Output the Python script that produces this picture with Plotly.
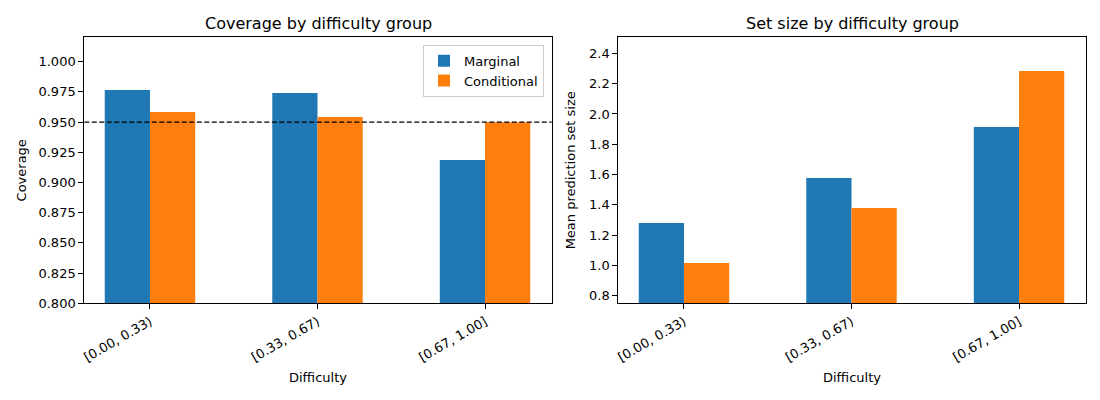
import plotly.graph_objects as go

categories = ["[0.00, 0.33)", "[0.33, 0.67)", "[0.67, 1.00]"]
coverage_marginal = [0.9765, 0.9740, 0.9186]
coverage_conditional = [0.9583, 0.9542, 0.9498]
setsize_marginal = [1.280, 1.577, 1.914]
setsize_conditional = [1.016, 1.379, 2.284]
target_coverage = 0.95
cov_ticks = [0.800, 0.825, 0.850, 0.875, 0.900, 0.925, 0.950, 0.975, 1.000]
size_ticks = [0.8, 1.0, 1.2, 1.4, 1.6, 1.8, 2.0, 2.2, 2.4]

BLUE = "#1f77b4"
ORANGE = "#ff7f0e"
FONT = "DejaVu Sans"

fig = go.Figure()
fig.add_trace(go.Bar(x=categories, y=coverage_marginal, name="Marginal", marker=dict(color=BLUE, line=dict(width=0)),
                     xaxis="x", yaxis="y", legendgroup="m"))
fig.add_trace(go.Bar(x=categories, y=coverage_conditional, name="Conditional", marker=dict(color=ORANGE, line=dict(width=0)),
                     xaxis="x", yaxis="y", legendgroup="c"))
fig.add_trace(go.Bar(x=categories, y=setsize_marginal, name="Marginal", marker=dict(color=BLUE, line=dict(width=0)),
                     xaxis="x2", yaxis="y2", showlegend=False, legendgroup="m"))
fig.add_trace(go.Bar(x=categories, y=setsize_conditional, name="Conditional", marker=dict(color=ORANGE, line=dict(width=0)),
                     xaxis="x2", yaxis="y2", showlegend=False, legendgroup="c"))

ydom = [(400 - 303.3) / 400, (400 - 37.3) / 400]
x1dom = [84.3 / 1100, 551.7 / 1100]
x2dom = [618.3 / 1100, 1085.7 / 1100]

axis_common = dict(showline=True, linecolor="black", linewidth=1, mirror=True, ticks="outside",
                   ticklen=5, tickcolor="black", showgrid=False, zeroline=False, automargin=False,
                   tickfont=dict(size=13, color="black", family=FONT))

fig.update_layout(
    width=1100, height=400,
    margin=dict(l=0, r=0, t=0, b=0),
    paper_bgcolor="white", plot_bgcolor="white",
    font=dict(family=FONT, color="black"),
    barmode="group", bargap=0.46, bargroupgap=0,
    showlegend=True,
    legend=dict(x=544 / 1100, xanchor="right", y=(400 - 44.7) / 400, yanchor="top",
                bgcolor="rgba(255,255,255,0.8)", bordercolor="#cccccc", borderwidth=1,
                font=dict(size=13, family=FONT), tracegroupgap=0),
    xaxis=dict(domain=x1dom, anchor="y", range=[-0.392, 2.398], tickangle=-30,
               title=dict(text="Difficulty", font=dict(size=13, family=FONT), standoff=9), **axis_common),
    yaxis=dict(domain=ydom, anchor="x", range=[0.8, 1.0202], tickvals=cov_ticks, tickformat=".3f",
               title=dict(text="Coverage", font=dict(size=13, family=FONT), standoff=8), **axis_common),
    xaxis2=dict(domain=x2dom, anchor="y2", range=[-0.392, 2.398], tickangle=-30,
                title=dict(text="Difficulty", font=dict(size=13, family=FONT), standoff=9), **axis_common),
    yaxis2=dict(domain=ydom, anchor="x2", range=[0.75, 2.506], tickvals=size_ticks, tickformat=".1f",
                title=dict(text="Mean prediction set size", font=dict(size=13, family=FONT), standoff=10), **axis_common),
    annotations=[
        dict(text="Coverage by difficulty group", x=(x1dom[0] + x1dom[1]) / 2, y=(400 - 23) / 400,
             xref="paper", yref="paper", showarrow=False, font=dict(size=16, family=FONT),
             xanchor="center", yanchor="middle"),
        dict(text="Set size by difficulty group", x=(x2dom[0] + x2dom[1]) / 2, y=(400 - 23) / 400,
             xref="paper", yref="paper", showarrow=False, font=dict(size=16, family=FONT),
             xanchor="center", yanchor="middle"),
    ],
    shapes=[dict(type="line", xref="x domain", yref="y", x0=0, x1=1, y0=target_coverage, y1=target_coverage,
                 line=dict(color="black", width=1.1, dash="5px,2.5px"), layer="above")],
)

fig.write_html("out.html")
